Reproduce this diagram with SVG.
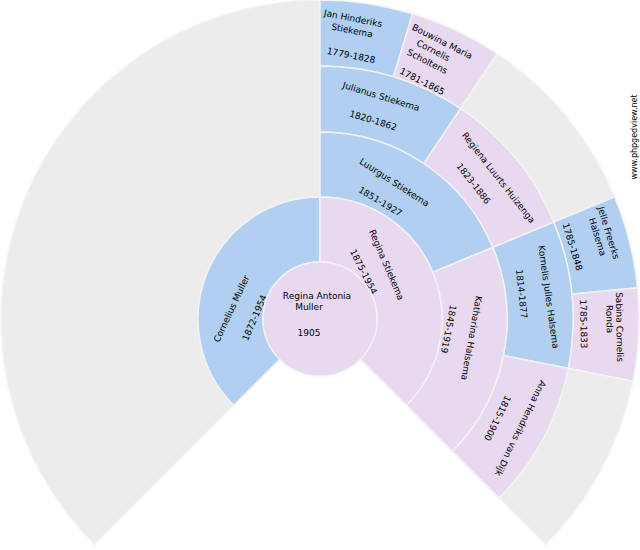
<svg xmlns="http://www.w3.org/2000/svg" width="640" height="550" viewBox="0 0 640 550">
<style>
.b{fill:#b1cff1;stroke:#f2f2f2;stroke-width:1.5}
.p{fill:#e9d9f0;stroke:#f2f2f2;stroke-width:1.5}
.g{fill:#ececec;stroke:#f4f4f4;stroke-width:1.5}
text{font-family:"DejaVu Sans",sans-serif;font-size:9px;fill:#000;text-anchor:middle;dominant-baseline:middle}
</style>
<rect width="640" height="550" fill="#fff"/>
<g id="gray-father"><path class="g" d="M94.44,544.56 A319,319 0 0 1 320,0 L320,197 A122,122 0 0 0 233.73,405.27 Z"/></g>
<g id="jan"><path class="b" d="M320,0 A319,319 0 0 1 412.61,13.75 L393.45,76.9 A253,253 0 0 0 320,66 Z"/>
<text transform="translate(353,19) rotate(11)">Jan Hinderiks</text><text transform="translate(352,31) rotate(11)">Stiekema</text><text transform="translate(351,56) rotate(11)">1779-1828</text></g>
<g id="bouwina"><path class="p" d="M412.61,13.75 A319,319 0 0 1 497.24,53.75 L460.57,108.63 A253,253 0 0 0 393.45,76.9 Z"/>
<text transform="translate(442,42) rotate(27)">Bouwina Maria</text><text transform="translate(433,51) rotate(27)">Cornelis</text><text transform="translate(427,62) rotate(27)">Scholtens</text><text transform="translate(422,82) rotate(27)">1781-1865</text></g>
<g id="gray1"><path class="g" d="M497.24,53.75 A319,319 0 0 1 614.72,196.92 L553.75,222.18 A253,253 0 0 0 460.57,108.63 Z"/></g>
<g id="jelle"><path class="b" d="M614.72,196.92 A319,319 0 0 1 637.47,287.74 L571.79,294.21 A253,253 0 0 0 553.75,222.18 Z"/>
<text transform="translate(608,233) rotate(73)">Jelle Freerks</text><text transform="translate(597,237) rotate(73)">Halsema</text><text transform="translate(572,247) rotate(73)">1785-1848</text></g>
<g id="sabina"><path class="p" d="M637.47,287.74 A319,319 0 0 1 632.88,381.24 L568.14,368.36 A253,253 0 0 0 571.79,294.21 Z"/>
<text transform="translate(619,327) rotate(89)">Sabina Cornelis</text><text transform="translate(609,319) rotate(89)">Ronda</text><text transform="translate(583,324) rotate(89)">1785-1833</text></g>
<g id="gray2"><path class="g" d="M632.88,381.24 A319,319 0 0 1 545.56,544.56 L498.9,497.9 A253,253 0 0 0 568.14,368.36 Z"/></g>
<g id="julianus"><path class="b" d="M320,66 A253,253 0 0 1 460.57,108.63 L423.9,163.51 A187,187 0 0 0 320,132 Z"/>
<text transform="translate(381,97) rotate(17)">Julianus Stiekema</text><text transform="translate(373,121) rotate(17)">1820-1862</text></g>
<g id="regiena"><path class="p" d="M460.57,108.63 A253,253 0 0 1 553.75,222.18 L492.77,247.44 A187,187 0 0 0 423.9,163.51 Z"/>
<text transform="translate(498,178) rotate(52)">Regiena Luurts Huizenga</text><text transform="translate(473,184) rotate(52)">1823-1886</text></g>
<g id="kornelis"><path class="b" d="M553.75,222.18 A253,253 0 0 1 568.14,368.36 L503.41,355.48 A187,187 0 0 0 492.77,247.44 Z"/>
<text transform="translate(548,297) rotate(82)">Kornelis Julles Halsema</text><text transform="translate(521,294) rotate(84)">1814-1877</text></g>
<g id="anna"><path class="p" d="M568.14,368.36 A253,253 0 0 1 498.9,497.9 L452.23,451.23 A187,187 0 0 0 503.41,355.48 Z"/>
<text transform="translate(520,428) rotate(116)">Anna Hendriks van Dijk</text><text transform="translate(497,418) rotate(116)">1815-1900</text></g>
<g id="luurgus"><path class="b" d="M320,132 A187,187 0 0 1 492.77,247.44 L432.72,272.31 A122,122 0 0 0 320,197 Z"/>
<text transform="translate(394,183) rotate(33)">Luurgus Stiekema</text><text transform="translate(380,202) rotate(31)">1851-1927</text></g>
<g id="katharina"><path class="p" d="M492.77,247.44 A187,187 0 0 1 452.23,451.23 L406.27,405.27 A122,122 0 0 0 432.72,272.31 Z"/>
<text transform="translate(471,338) rotate(100)">Katharina Halsema</text><text transform="translate(448,329) rotate(101)">1845-1919</text></g>
<g id="cornelius"><path class="b" d="M233.73,405.27 A122,122 0 0 1 320,197 L320,262 A57,57 0 0 0 279.69,359.31 Z"/>
<text transform="translate(232,309) rotate(-65)">Cornelius Muller</text><text transform="translate(255,318) rotate(-67)">1872-1954</text></g>
<g id="regina-s"><path class="p" d="M320,197 A122,122 0 0 1 406.27,405.27 L360.31,359.31 A57,57 0 0 0 320,262 Z"/>
<text transform="translate(386,265) rotate(67)">Regina Stiekema</text><text transform="translate(363,272) rotate(63)">1875-1954</text></g>
<g id="regina-a"><circle class="p" cx="320" cy="319" r="57"/>
<text x="317" y="296">Regina Antonia</text><text x="309" y="307">Muller</text><text x="309" y="333">1905</text></g>
<g id="connectors"/>
<text transform="translate(634,137) rotate(-90)" style="font-size:8px">www.phpgedview.net</text>
</svg>
